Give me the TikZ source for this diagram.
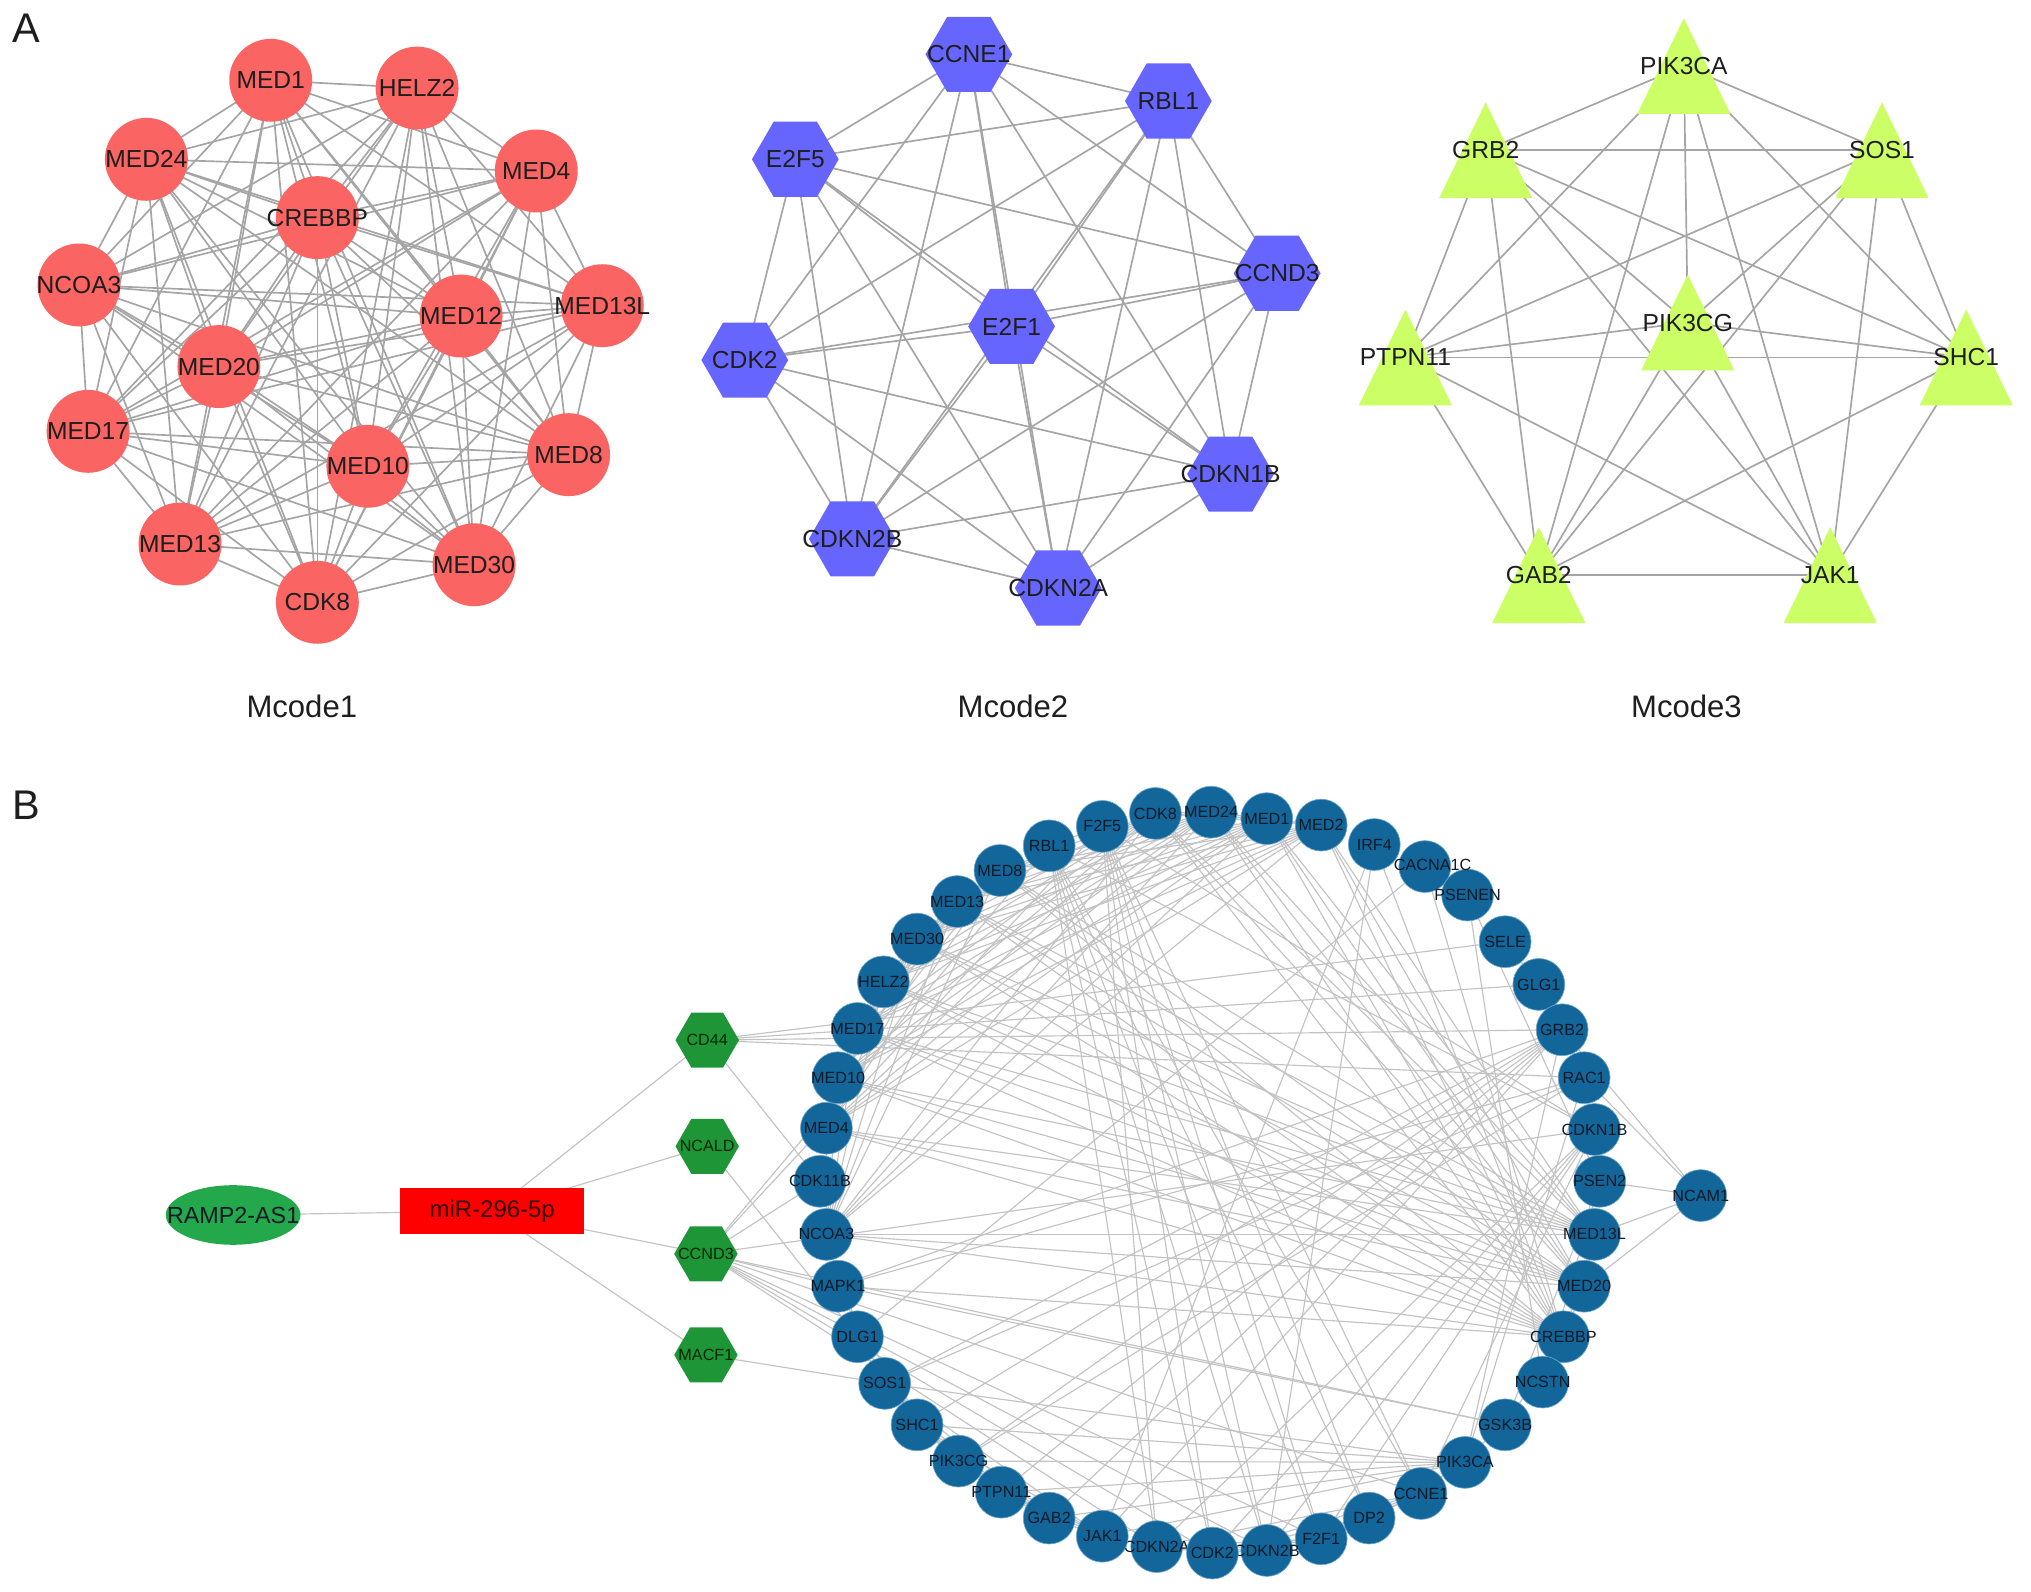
\documentclass[tikz,border=0pt]{standalone}
\usepackage{fontspec}
\setmainfont{Liberation Sans}
\usetikzlibrary{shapes.geometric,backgrounds}
\definecolor{redn}{RGB}{250,100,98}
\definecolor{bluen}{RGB}{102,102,255}
\definecolor{ygn}{RGB}{204,255,102}
\definecolor{cblue}{RGB}{18,102,153}
\definecolor{cbord}{RGB}{110,165,205}
\definecolor{hgreen}{RGB}{30,150,55}
\definecolor{egreen}{RGB}{36,168,76}
\definecolor{edgeA}{RGB}{165,165,165}
\definecolor{edgeB}{RGB}{195,195,195}
\definecolor{txt}{RGB}{30,30,30}
\definecolor{txtB}{RGB}{15,25,40}
\tikzset{
  lab/.style={font=\fontsize{19}{22}\selectfont, text=txt, inner sep=0},
  nl/.style={label={[lab]center:#1}},
  labB/.style={font=\fontsize{12.5}{14}\selectfont, text=txtB, inner sep=0},
  nlB/.style={label={[labB]center:#1}},
  redc/.style={circle, fill=redn, minimum size=64, inner sep=0},
  hexA/.style={regular polygon, regular polygon sides=6, fill=bluen, minimum size=67, inner sep=0},
  triA/.style={rectangle, minimum width=72, minimum height=74, inner sep=0,
    path picture={\fill[ygn] (path picture bounding box.south west) -- (path picture bounding box.south east) -- (path picture bounding box.north) -- cycle;}},
  cb/.style={circle, fill=cblue, draw=cbord, line width=0.5, minimum size=40, inner sep=0},
  hexB/.style={regular polygon, regular polygon sides=6, fill=hgreen, minimum size=49, inner sep=0},
  eA/.style={draw=edgeA, line width=1.3},
  eB/.style={draw=edgeB, line width=0.9},
  panel/.style={font=\fontsize{32}{36}\selectfont, text=txt, inner sep=0},
  mcode/.style={font=\fontsize{24}{28}\selectfont, text=txt, inner sep=0}
}
\begin{document}
\begin{tikzpicture}[x=1pt,y=-1pt]
\useasboundingbox (0,0) rectangle (1568,1229);
% panel letters
\node[panel] (lA) at (20,22) {A};
\node[panel] (lB) at (20,622) {B};
% ---------------- Mcode1
\node[redc,nl=MED1] (pMED1) at (209,62) {};
\node[redc,nl=HELZ2] (pHELZ2) at (322,68) {};
\node[redc,nl=MED24] (pMED24) at (113,123) {};
\node[redc,nl=MED4] (pMED4) at (414,132) {};
\node[redc,nl=CREBBP] (pCREBBP) at (245,168) {};
\node[redc,nl=NCOA3] (pNCOA3) at (61,220) {};
\node[redc,nl=MED13L] (pMED13L) at (465,236) {};
\node[redc,nl=MED12] (pMED12) at (356,244) {};
\node[redc,nl=MED20] (pMED20) at (169,283) {};
\node[redc,nl=MED17] (pMED17) at (68,333) {};
\node[redc,nl=MED10] (pMED10) at (284,360) {};
\node[redc,nl=MED8] (pMED8) at (439,351) {};
\node[redc,nl=MED13] (pMED13) at (139,420) {};
\node[redc,nl=MED30] (pMED30) at (366,436) {};
\node[redc,nl=CDK8] (pCDK8) at (245,465) {};
\node[mcode] (m1) at (233,545) {Mcode1};
% ---------------- Mcode2
\node[hexA,nl=CCNE1] (qCCNE1) at (748,42) {};
\node[hexA,nl=RBL1] (qRBL1) at (902,78) {};
\node[hexA,nl=E2F5] (qE2F5) at (614,123) {};
\node[hexA,nl=CCND3] (qCCND3) at (986,211) {};
\node[hexA,nl=E2F1] (qE2F1) at (781,252) {};
\node[hexA,nl=CDK2] (qCDK2) at (575,278) {};
\node[hexA,nl=CDKN1B] (qCDKN1B) at (950,366) {};
\node[hexA,nl=CDKN2B] (qCDKN2B) at (658,416) {};
\node[hexA,nl=CDKN2A] (qCDKN2A) at (817,454) {};
\node[mcode] (m2) at (782,545) {Mcode2};
% ---------------- Mcode3
\node[triA,nl=PIK3CA] (rPIK3CA) at (1300,51) {};
\node[triA,nl=GRB2] (rGRB2) at (1147,116) {};
\node[triA,nl=SOS1] (rSOS1) at (1453,116) {};
\node[triA,nl=PIK3CG] (rPIK3CG) at (1303,249) {};
\node[triA,nl=PTPN11] (rPTPN11) at (1085,276) {};
\node[triA,nl=SHC1] (rSHC1) at (1518,276) {};
\node[triA,nl=GAB2] (rGAB2) at (1188,444) {};
\node[triA,nl=JAK1] (rJAK1) at (1413,444) {};
\node[mcode] (m3) at (1302,545) {Mcode3};
% ---------------- B
\node[ellipse, fill=egreen, minimum width=104, minimum height=46, inner sep=0, label={[font=\fontsize{18}{20}\selectfont,text=txtB,inner sep=0]center:RAMP2-AS1}] (bRAMP) at (180,938) {};
\node[rectangle, fill=red, minimum width=142, minimum height=36, inner sep=0, label={[font=\fontsize{18.5}{20}\selectfont,text=black!80!red,inner sep=0]center:miR-296-5p}] (bmir) at (380,935) {};
\tikzset{hl/.style={label={[font=\fontsize{12.5}{14}\selectfont,text=black!85!green,inner sep=0]center:#1}}}
\node[hexB,hl=CD44] (bCD44) at (546,803) {};
\node[hexB,hl=NCALD] (bNCALD) at (546,885) {};
\node[hexB,hl=CCND3] (bCCND3) at (545,968) {};
\node[hexB,hl=MACF1] (bMACF1) at (545,1046) {};
% ring
\node[cb,nlB=CDK8] (bCDK8) at (892,628) {};
\node[cb,nlB=MED24] (bMED24) at (935,627) {};
\node[cb,nlB=MED1] (bMED1) at (978,632) {};
\node[cb,nlB=MED2] (bMED2) at (1020,637) {};
\node[cb,nlB=IRF4] (bIRF4) at (1061,652) {};
\node[cb] (bCACNA1C) at (1100,669) {};
\node[cb,nlB=PSENEN] (bPSENEN) at (1133,691) {};
\node[labB] (tCAC) at (1106,668) {CACNA1C};
\node[cb,nlB=SELE] (bSELE) at (1162,727) {};
\node[cb,nlB=GLG1] (bGLG1) at (1188,760) {};
\node[cb,nlB=GRB2] (bGRB2) at (1206,795) {};
\node[cb,nlB=RAC1] (bRAC1) at (1223,832) {};
\node[cb,nlB=CDKN1B] (bCDKN1B) at (1231,872) {};
\node[cb,nlB=PSEN2] (bPSEN2) at (1235,912) {};
\node[cb,nlB=MED13L] (bMED13L) at (1231,953) {};
\node[cb,nlB=MED20] (bMED20) at (1223,993) {};
\node[cb,nlB=CREBBP] (bCREBBP) at (1207,1032) {};
\node[cb,nlB=NCSTN] (bNCSTN) at (1191,1067) {};
\node[cb,nlB=GSK3B] (bGSK3B) at (1162,1100) {};
\node[cb,nlB=PIK3CA] (bPIK3CA) at (1131,1129) {};
\node[cb,nlB=CCNE1] (bCCNE1) at (1097,1153) {};
\node[cb,nlB=DP2] (bDP2) at (1057,1172) {};
\node[cb,nlB=F2F1] (bF2F1) at (1020,1188) {};
\node[cb,nlB=CDKN2B] (bCDKN2B) at (978,1197) {};
\node[cb,nlB=CDKN2A] (bCDKN2) at (893,1194) {};
\node[cb,nlB=CDK2] (bCDK2) at (936,1199) {};
\node[cb,nlB=PTPN11] (bPTPN11) at (773,1152) {};
\node[cb,nlB=GAB2] (bGAB2) at (810,1172) {};
\node[cb,nlB=JAK1] (bJAK1) at (851,1186) {};
\node[cb,nlB=PIK3CG] (bPIK3CG) at (740,1128) {};
\node[cb,nlB=SHC1] (bSHC1) at (708,1100) {};
\node[cb,nlB=SOS1] (bSOS1) at (683,1068) {};
\node[cb,nlB=DLG1] (bDLG1) at (662,1032) {};
\node[cb,nlB=MAPK1] (bMAPK1) at (647,993) {};
\node[cb,nlB=NCOA3] (bNCOA3) at (638,953) {};
\node[cb,nlB=CDK11B] (bCDK11B) at (633,912) {};
\node[cb,nlB=MED4] (bMED4) at (638,871) {};
\node[cb,nlB=MED10] (bMED10) at (647,832) {};
\node[cb,nlB=MED17] (bMED17) at (662,794) {};
\node[cb,nlB=HELZ2] (bHELZ2) at (682,758) {};
\node[cb,nlB=MED30] (bMED30) at (708,725) {};
\node[cb,nlB=MED13] (bMED13) at (739,696) {};
\node[cb,nlB=MED8] (bMED8) at (772,672) {};
\node[cb,nlB=RBL1] (bRBL1) at (810,653) {};
\node[cb,nlB=F2F5] (bF2F5) at (851,638) {};
\node[cb,nlB=NCAM1] (bNCAM1) at (1313,923) {};
% ---------------- edges
\begin{pgfonlayer}{background}
\foreach \L in {{pMED1,pHELZ2,pMED24,pMED4,pCREBBP,pNCOA3,pMED13L,pMED12,pMED20,pMED17,pMED10,pMED8,pMED13,pMED30,pCDK8},
                {qCCNE1,qRBL1,qE2F5,qCCND3,qE2F1,qCDK2,qCDKN1B,qCDKN2B,qCDKN2A},
                {rPIK3CA,rGRB2,rSOS1,rPIK3CG,rPTPN11,rSHC1,rGAB2,rJAK1}}{
  \foreach \a [count=\i] in \L {
    \foreach \b [count=\j] in \L {
      \ifnum\i<\j \draw[eA] (\a.center) -- (\b.center); \fi
    }
  }
}
\foreach \L in {{bMED24,bMED1,bMED2,bHELZ2,bMED4,bCREBBP,bNCOA3,bMED13L,bMED20,bMED17,bMED10,bMED8,bMED13,bMED30,bCDK8},
                {bCCNE1,bRBL1,bF2F5,bF2F1,bCDK2,bCDKN1B,bCDKN2B,bCDKN2,bCCND3},
                {bPIK3CA,bGRB2,bSOS1,bPIK3CG,bPTPN11,bSHC1,bGAB2,bJAK1}}{
  \foreach \a [count=\i] in \L {
    \foreach \b [count=\j] in \L {
      \ifnum\i<\j \draw[eB] (\a.center) -- (\b.center); \fi
    }
  }
}
\foreach \a/\b in {bDP2/bF2F1, bDP2/bF2F5, bDP2/bRBL1, bDP2/bCCNE1, bDP2/bCDK2,
  bPSENEN/bNCSTN, bPSENEN/bPSEN2, bNCSTN/bPSEN2, bGSK3B/bPSEN2, bGSK3B/bCCND3, bGSK3B/bCREBBP, bGSK3B/bCCNE1,
  bMAPK1/bGRB2, bMAPK1/bSOS1, bMAPK1/bSHC1, bMAPK1/bRAC1, bMAPK1/bCREBBP, bMAPK1/bGSK3B, bMAPK1/bCCND3,
  bRAC1/bPIK3CA, bRAC1/bPIK3CG, bRAC1/bSOS1, bRAC1/bGRB2,
  bSELE/bGLG1, bSELE/bCD44, bGLG1/bCD44, bGRB2/bCD44, bRAC1/bCD44, bCDK11B/bCD44,
  bIRF4/bCREBBP, bIRF4/bCDKN2B, bIRF4/bJAK1,
  bCACNA1C/bDLG1, bCACNA1C/bCREBBP,
  bNCALD/bDLG1, bMACF1/bSOS1, bCCND3/bCDK11B,
  bNCAM1/bGRB2, bNCAM1/bRAC1, bNCAM1/bPSEN2, bNCAM1/bMED13L, bNCAM1/bMED20,
  bmir/bCD44, bmir/bNCALD, bmir/bCCND3, bmir/bMACF1, bRAMP/bmir}
  \draw[eB] (\a.center) -- (\b.center);
\end{pgfonlayer}
\end{tikzpicture}
\end{document}
